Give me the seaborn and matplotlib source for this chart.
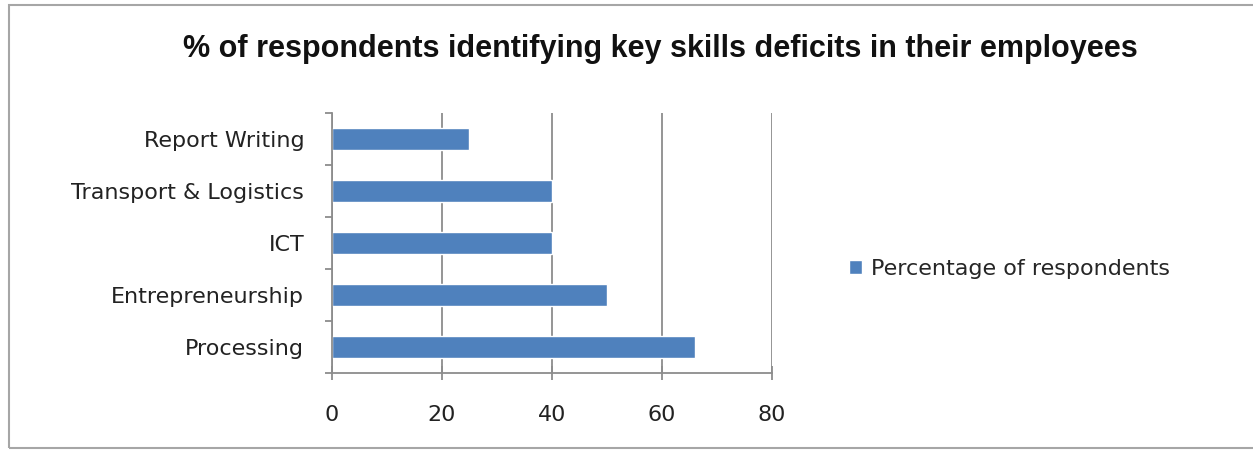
import matplotlib.pyplot as plt
import seaborn as sns
import pandas as pd
from matplotlib.patches import Rectangle

sns.set_theme(style="white")
plt.rcParams['font.family'] = ['DejaVu Sans']

# data
skills = ["Report Writing", "Transport & Logistics", "ICT", "Entrepreneurship", "Processing"]
percent = [25, 40, 40, 50, 66]
series_name = "Percentage of respondents"

data = pd.DataFrame({"skill": skills, "pct": percent})

fig = plt.figure(figsize=(12.53, 4.5), dpi=100)
ax = fig.add_axes([0.265, 0.171, 0.351, 0.578])

sns.barplot(data=data, x="pct", y="skill", orient="h", color="#4F81BD",
            saturation=1, width=0.42, label=series_name, ax=ax)

ax.set_xlim(0, 80)
ax.set_xticks([0, 20, 40, 60, 80])
ax.set_ylim(4.5, -0.5)
ax.set_xlabel("")
ax.set_ylabel("")

# gridlines like the office chart
ax.grid(axis="x", color="#8c8c8c", linewidth=1.3)
ax.set_axisbelow(True)
for s in ["top", "right"]:
    ax.spines[s].set_visible(False)
for s in ["left", "bottom"]:
    ax.spines[s].set_color("#8c8c8c")
    ax.spines[s].set_linewidth(1.3)

ax.set_yticks([i - 0.5 for i in range(len(skills) + 1)], minor=True)
ax.tick_params(axis="y", which="major", length=0, pad=20, labelsize=16, labelcolor="#222222")
ax.tick_params(axis="y", which="minor", length=5, width=1.3, color="#8c8c8c", direction="out", left=True)
ax.tick_params(axis="x", which="major", length=10, width=1.3, color="#8c8c8c", direction="inout",
               bottom=True, pad=18, labelsize=16, labelcolor="#222222")

ax.legend(loc="center left", bbox_to_anchor=(1.13, 0.4), frameon=False, fontsize=16,
          handlelength=0.6, handleheight=0.6, handletextpad=0.4)

fig.suptitle("% of respondents identifying key skills deficits in their employees",
             x=0.527, y=0.925, fontsize=22, fontweight="bold", family="Liberation Sans", color="#111111")

# outer chart frame
fig.patches.append(Rectangle((0.007, 0.004), 1.0, 0.984, transform=fig.transFigure,
                             fill=False, edgecolor="#a6a6a6", linewidth=1.5))

fig.savefig("out.png", dpi=100)
